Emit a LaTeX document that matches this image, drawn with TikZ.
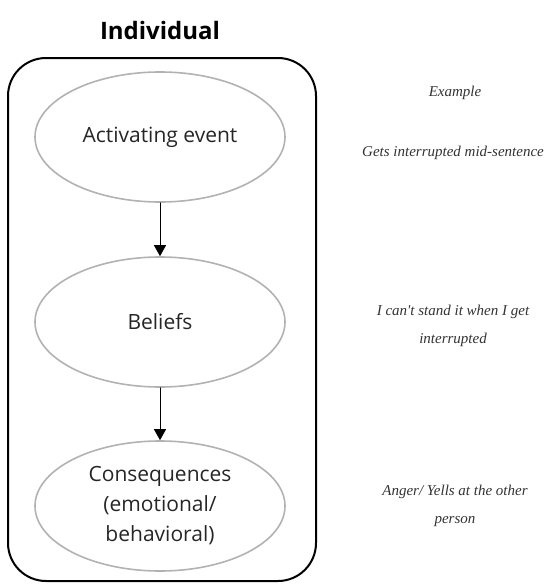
\documentclass[tikz,border=0pt]{standalone}
\usepackage{fontspec}
\setmainfont{Open Sans}
\newfontfamily\handfont{Liberation Serif}
\usetikzlibrary{arrows.meta,shapes.geometric}
\tikzset{
  stage/.style={ellipse,draw=black!30,line width=1.6pt,minimum width=250pt,minimum height=130pt,
    align=center,font=\fontsize{21}{30}\selectfont,text=black!85},
  hand/.style={align=center,font=\handfont\itshape\fontsize{15}{28}\selectfont,text=black!80}
}

\begin{document}
\begin{tikzpicture}[x=1pt,y=-1pt,line cap=round,line join=round,>={Triangle[length=11pt,width=12pt]}]
	\useasboundingbox (0,0) rectangle (547,584);
	\node (title) at (160,30) {\fontsize{24}{28}\selectfont\bfseries Individual};
	\draw [line width=2pt,rounded corners=38pt] (8,58) rectangle (316,581);
	% the three stages
	\node [stage] (event) at (160,137) {Activating event};
	\node [stage] (beliefs) at (160,322) {Beliefs};
	\node [stage] (cons) at (160,506) {Consequences\\(emotional/\\behavioral)};
	\draw [->,line width=1pt] (event) -- (beliefs);
	\draw [->,line width=1pt] (beliefs) -- (cons);
	% example column
	\node [hand] (exhead) at (455,93) {Example};
	\node [hand] (exevent) at (453,153) {Gets interrupted mid-sentence};
	\node [hand] (exbeliefs) at (453,326) {I can't stand it when I get\\interrupted};
	\node [hand] (excons) at (455,506) {Anger/ Yells at the other\\person};
\end{tikzpicture}
\end{document}
